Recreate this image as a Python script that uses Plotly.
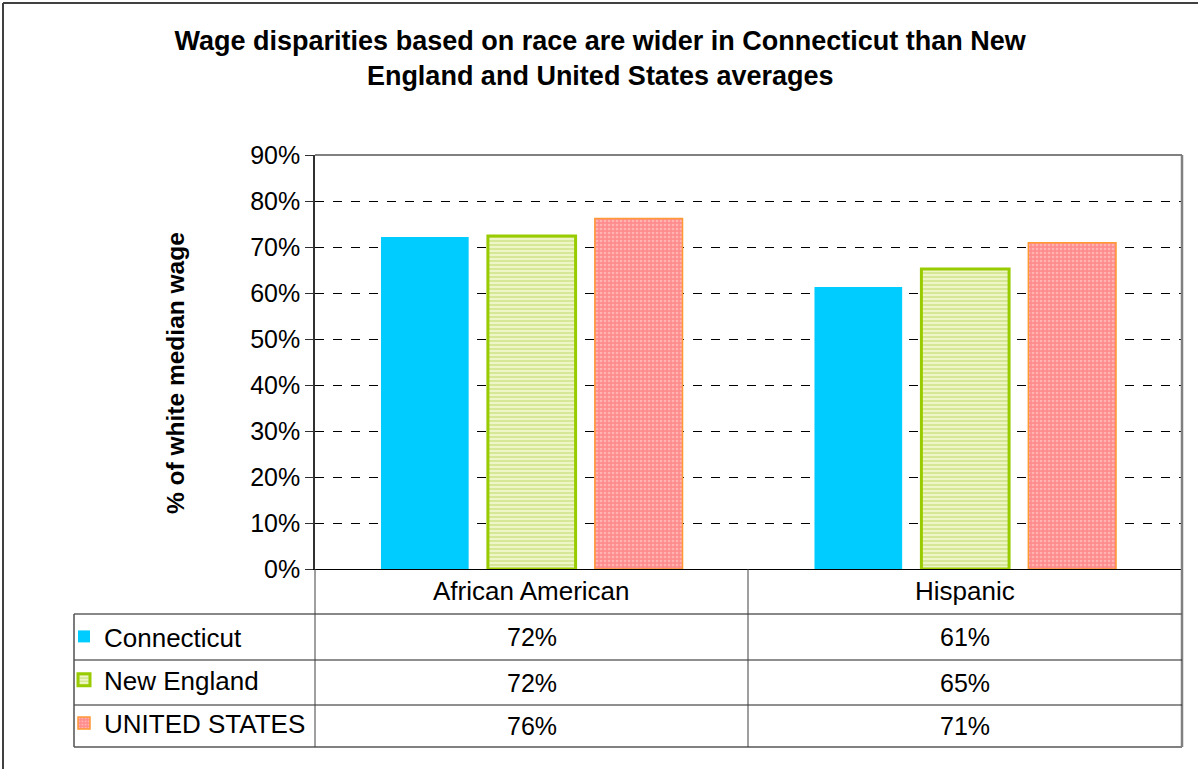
import plotly.graph_objects as go

categories = ["African American", "Hispanic"]
series_names = ["Connecticut", "New England", "UNITED STATES"]
connecticut = [72.2, 61.3]
new_england = [72.4, 65.2]
united_states = [76.2, 70.9]
y_ticks = [0, 10, 20, 30, 40, 50, 60, 70, 80, 90]

W, H = 1198, 769
L, R, T, B = 315, 1182, 155, 569  # plot area in pixels


def px(x):
    return (x - L) / (R - L)


def py(y):
    return (B - y) / (B - T)


values = [connecticut, new_england, united_states]
styles = [
    dict(color="#00CCFF", line=dict(width=0)),
    dict(color="#EEF6C8", line=dict(color="#99CC00", width=3),
         pattern=dict(shape="-", fgcolor="#B8D65C", bgcolor="#EEF6C8", size=4, solidity=0.45)),
    dict(color="#FF9999", line=dict(color="#FF9933", width=1.5),
         pattern=dict(shape=".", fgcolor="#FFD9D9", bgcolor="#FF8C8C", size=4, solidity=0.35)),
]

fig = go.Figure()
for i, (name, vals, st) in enumerate(zip(series_names, values, styles)):
    fig.add_trace(go.Bar(x=categories, y=vals, name=name, marker=st,
                         legendgroup=name, showlegend=True))

font = "Liberation Sans, Arial, sans-serif"
shapes = []


def hline(y, x0, x1, color="#404040", w=1):
    shapes.append(dict(type="line", xref="paper", yref="paper", x0=px(x0), x1=px(x1),
                       y0=py(y), y1=py(y), line=dict(color=color, width=w)))


def vline(x, y0, y1, color="#404040", w=1):
    shapes.append(dict(type="line", xref="paper", yref="paper", x0=px(x), x1=px(x),
                       y0=py(y0), y1=py(y1), line=dict(color=color, width=w)))


# plot area frame (top/right gray)
hline(T, L, R, "#808080", 2)
vline(R, T, 747, "#808080", 2.5)
# table
hline(614, 74, R, "#606060", 1.5)
hline(660, 74, R, "#202020", 1)
hline(705, 74, R, "#202020", 1)
hline(747, 74, R, "#808080", 2)
vline(L, B, 747, "#404040", 1)
vline(748, B, 747, "#404040", 1)
vline(74, 614, 747, "#505050", 1.5)
# outer frame
hline(3, 3, W, "#404040", 2)
vline(3, 3, H, "#404040", 2)

annotations = []
cat_row_y = 591
row_ys = [637, 683, 726]
for c in categories:
    annotations.append(dict(x=c, xref="x", y=py(cat_row_y), yref="paper", yanchor="middle",
                            text=c, showarrow=False,
                            font=dict(size=26, color="black", family=font)))
for vals, ry in zip(values, row_ys):
    for c, v in zip(categories, vals):
        annotations.append(dict(x=c, xref="x", y=py(ry), yref="paper", yanchor="middle",
                                text=f"{round(v)}%", showarrow=False,
                                font=dict(size=25, color="black", family=font)))
annotations.append(dict(x=px(175), xref="paper", y=py(373), yref="paper",
                        xanchor="center", yanchor="middle",
                        text="<b>% of white median wage</b>", textangle=-90, showarrow=False,
                        font=dict(size=24.5, color="black", family=font)))

fig.update_layout(
    width=W, height=H,
    margin=dict(l=L, r=W - R, t=T, b=H - B, autoexpand=False),
    paper_bgcolor="white", plot_bgcolor="white",
    title=dict(text="<b>Wage disparities based on race are wider in Connecticut than New<br>England and United States averages</b>",
               x=0.501, xref="container", xanchor="center", y=1 - 50 / H, yref="container",
               yanchor="middle", font=dict(size=27, color="black", family=font)),
    barmode="group", bargap=0.26, bargroupgap=0.18,
    font=dict(family=font, color="black"),
    xaxis=dict(showticklabels=False, showline=True, linecolor="black", linewidth=1,
               ticks="", showgrid=False, fixedrange=True),
    yaxis=dict(range=[0, 90], tickvals=y_ticks, ticktext=[f"{t}%" for t in y_ticks],
               showline=True, linecolor="#303030", linewidth=1.5, ticks="outside", ticklen=8,
               tickcolor="#303030", tickfont=dict(size=25, color="black", family=font),
               showgrid=True, gridcolor="black", griddash="dash", gridwidth=1, zeroline=False),
    legend=dict(x=px(64), xref="paper", y=py(613), yref="paper", xanchor="left", yanchor="top",
                font=dict(size=26, color="black", family=font), tracegroupgap=6.5,
                bgcolor="rgba(0,0,0,0)", itemwidth=30, traceorder="grouped"),
    shapes=shapes, annotations=annotations,
)

fig.write_html("out.html", post_script="document.body.style.margin='0';",
               config={"displayModeBar": False})
